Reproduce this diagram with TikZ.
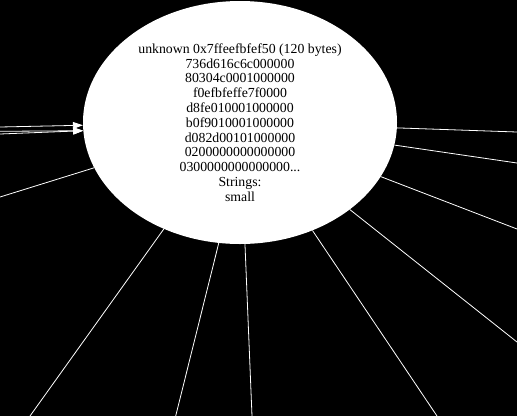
\documentclass[tikz,border=0pt]{standalone}
\usepackage{fontspec}
\setmainfont{Liberation Serif}
\usetikzlibrary{arrows.meta,shapes.geometric}
\begin{document}
\begin{tikzpicture}[x=1pt,y=-1pt]

    \tikzset{
      blob/.style={
        ellipse,
        fill=white,
        inner sep=0pt,
        minimum width=314pt,
        minimum height=243pt,
        align=center,
        font=\fontsize{13.8}{14.8}\selectfont,
      },
      edge/.style={
        color={white},
        line width=0.8,
      },
    }
    \fill[black] (0,0) rectangle (517,416);
    \useasboundingbox (0,0) rectangle (517,416);

	\node[blob] (obj) at (240,122.5) {unknown 0x7ffeefbfef50 (120 bytes)\\736d616c6c000000\\80304c0001000000\\f0efbfeffe7f0000\\d8fe010001000000\\b0f9010001000000\\d082d00101000000\\0200000000000000\\0300000000000000...\\Strings:\\small};

	\coordinate (in1) at (0,127);
	\coordinate (in2) at (0,131.3);
	\coordinate (in3) at (0,134);
	\coordinate (out1) at (0,197);
	\coordinate (out2) at (30,416);
	\coordinate (out3) at (175.7,416);
	\coordinate (out4) at (252,416);
	\coordinate (out5) at (437,416);
	\coordinate (out6) at (517,342);
	\coordinate (out7) at (517,229);
	\coordinate (out8) at (517,163);
	\coordinate (out9) at (517,132);

	\draw[edge,-{Triangle[length=10pt,width=7pt]}] (in1)--(obj.181.8);
	\draw[edge,-{Triangle[length=10pt,width=7pt]}] (in2)--(obj.183.3);
	\draw[edge,-{Triangle[length=10pt,width=7pt]}] (in3)--(obj.183.3);
	\draw[edge] (out1)--(obj);
	\draw[edge] (out2)--(obj);
	\draw[edge] (out3)--(obj.260);
	\draw[edge] (out4)--(obj);
	\draw[edge] (out5)--(obj);
	\draw[edge] (out6)--(obj);
	\draw[edge] (out7)--(obj);
	\draw[edge] (out8)--(obj);
	\draw[edge] (out9)--(obj);

\end{tikzpicture}
\end{document}
